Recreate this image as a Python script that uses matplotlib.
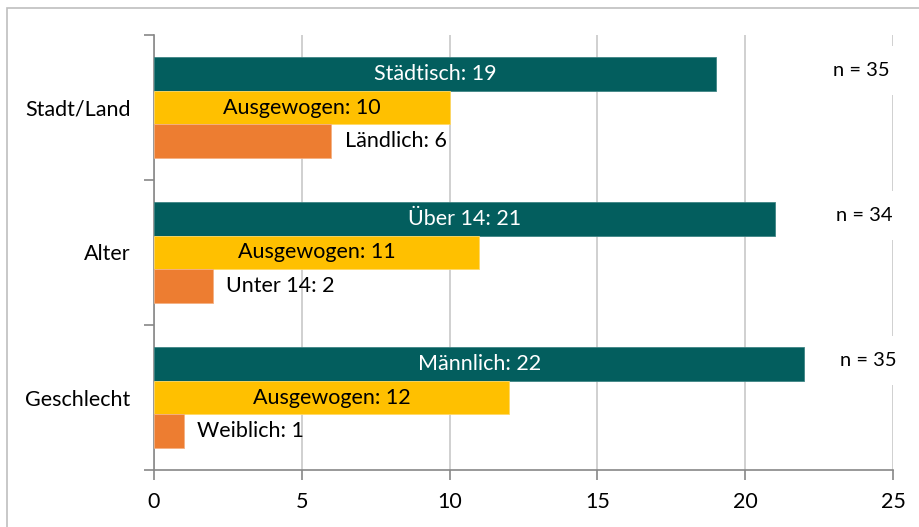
import matplotlib.pyplot as plt
from matplotlib.patches import Rectangle
import numpy as np

plt.rcParams['font.family'] = ['Lato', 'DejaVu Sans']

categories = ["Stadt/Land", "Alter", "Geschlecht"]
top_values = [19, 21, 22]
mid_values = [10, 11, 12]
low_values = [6, 2, 1]
top_names = ["Städtisch", "Über 14", "Männlich"]
mid_names = ["Ausgewogen", "Ausgewogen", "Ausgewogen"]
low_names = ["Ländlich", "Unter 14", "Weiblich"]
n_labels = ["n = 35", "n = 34", "n = 35"]
x_ticks = [0, 5, 10, 15, 20, 25]

teal = "#035E5E"
yellow = "#FFC000"
orange = "#ED7D31"

fig = plt.figure(figsize=(9.19, 5.27), dpi=100)
ax = fig.add_axes([154 / 919, 1 - 470 / 527, (893 - 154) / 919, (470 - 35) / 527])

# outer frame (cropped at right/bottom)
fig.patches.append(Rectangle((7 / 919, -0.1), 1.1, 1 - 8 / 527 + 0.1,
                             transform=fig.transFigure, fill=False,
                             edgecolor="#BFBFBF", linewidth=1.2))

y = np.arange(len(categories))[::-1].astype(float)
h = 0.234

ax.barh(y + h, top_values, height=h, color=teal, edgecolor="#3F8585", linewidth=0.6, zorder=3)
ax.barh(y, mid_values, height=h, color=yellow, edgecolor="#FFD966", linewidth=0.6, zorder=3)
ax.barh(y - h, low_values, height=h, color=orange, edgecolor="#F4B183", linewidth=0.6, zorder=3)

fs = 15.5
for i in range(len(categories)):
    ax.text(top_values[i] / 2, y[i] + h, f"{top_names[i]}: {top_values[i]}",
            ha="center", va="center", color="white", fontsize=fs, zorder=4)
    ax.text(mid_values[i] / 2, y[i], f"{mid_names[i]}: {mid_values[i]}",
            ha="center", va="center", color="black", fontsize=fs, zorder=4)
    ax.text(low_values[i] + 0.45, y[i] - h, f"{low_names[i]}: {low_values[i]}",
            ha="left", va="center", color="black", fontsize=fs, zorder=4)

n_x = [24.9, 25.0, 25.13]
for i in range(len(categories)):
    ax.text(n_x[i], y[i] + h + 0.02, n_labels[i], ha="right", va="center",
            fontsize=14.5, zorder=5,
            bbox=dict(boxstyle="square,pad=0.8", facecolor="white", edgecolor="none"))

ax.set_xlim(0, 25)
ax.set_ylim(-0.5, len(categories) - 0.5)
ax.set_xticks(x_ticks)
ax.set_xticklabels([str(t) for t in x_ticks], fontsize=fs)
ax.set_yticks(y)
ax.set_yticklabels(categories, fontsize=fs)
ax.tick_params(axis="y", length=0, pad=17)
# category separator ticks
ax.set_yticks(np.arange(-0.5, len(categories), 1.0), minor=True)
ax.tick_params(axis="y", which="minor", length=7, color="#878787", width=1.2)
ax.tick_params(axis="x", length=7, color="#878787", width=1.2, pad=9)

ax.grid(axis="x", color="#C8C8C8", linewidth=1.2, zorder=0)
for s in ["top", "right"]:
    ax.spines[s].set_visible(False)
for s in ["left", "bottom"]:
    ax.spines[s].set_color("#878787")
    ax.spines[s].set_linewidth(1.2)
ax.set_axisbelow(True)

fig.savefig("out.png", dpi=100)
